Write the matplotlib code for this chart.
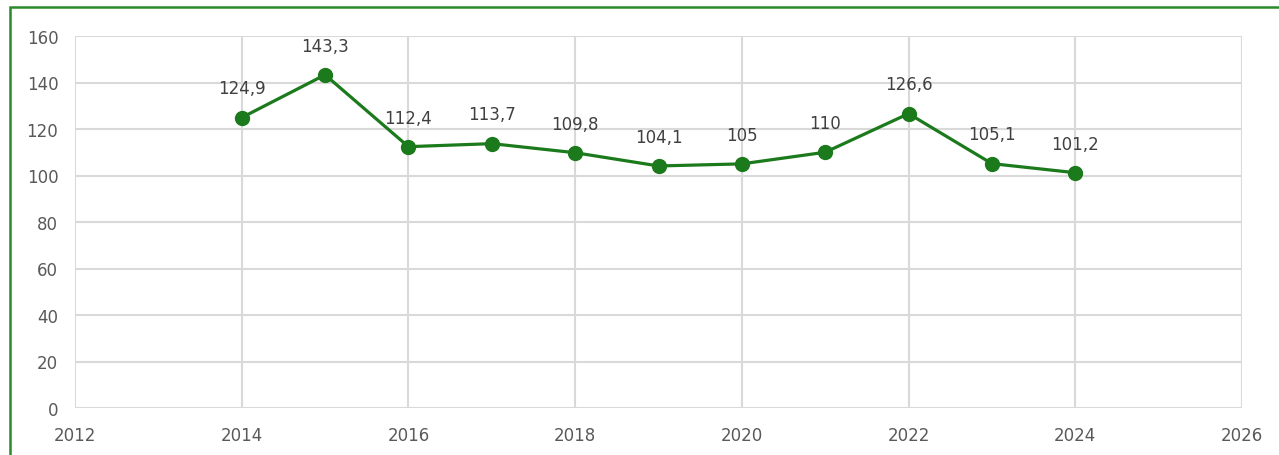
import matplotlib.pyplot as plt
from matplotlib.patches import Rectangle

# data
years = [2014, 2015, 2016, 2017, 2018, 2019, 2020, 2021, 2022, 2023, 2024]
values = [124.9, 143.3, 112.4, 113.7, 109.8, 104.1, 105, 110, 126.6, 105.1, 101.2]
x_ticks = [2012, 2014, 2016, 2018, 2020, 2022, 2024, 2026]
y_ticks = [0, 20, 40, 60, 80, 100, 120, 140, 160]

green = '#1b7a1b'
grid_c = '#d9d9d9'
text_c = '#595959'

fig = plt.figure(figsize=(12.79, 4.56), dpi=100)
ax = fig.add_axes([75 / 1279, 1 - 409 / 456, (1242 - 75) / 1279, (409 - 37) / 456])

ax.plot(years, values, color=green, lw=2.3, marker='o', ms=10, zorder=3, clip_on=False)

for x, y in zip(years, values):
    lbl = ('%g' % y).replace('.', ',')
    ax.annotate(lbl, (x, y), xytext=(0, 21), textcoords='offset points',
                ha='center', va='center', fontsize=12, color='#404040')

ax.set_xlim(2012, 2026)
ax.set_ylim(0, 160)
ax.set_xticks(x_ticks)
ax.set_yticks(y_ticks)
ax.grid(True, color=grid_c, lw=1.5)
ax.set_axisbelow(True)
for s in ax.spines.values():
    s.set_visible(False)
ax.tick_params(length=0, labelsize=12, labelcolor=text_c)
ax.tick_params(axis='y', pad=12)
ax.tick_params(axis='x', pad=13)

# green frame around the chart
fig.patches.append(Rectangle((9.5 / 1279, -0.1), 1.0, 1.1 - 7.5 / 456,
                             transform=fig.transFigure, fill=False,
                             edgecolor='#2a8a2a', lw=1.8))

fig.savefig('out.png', dpi=100)
